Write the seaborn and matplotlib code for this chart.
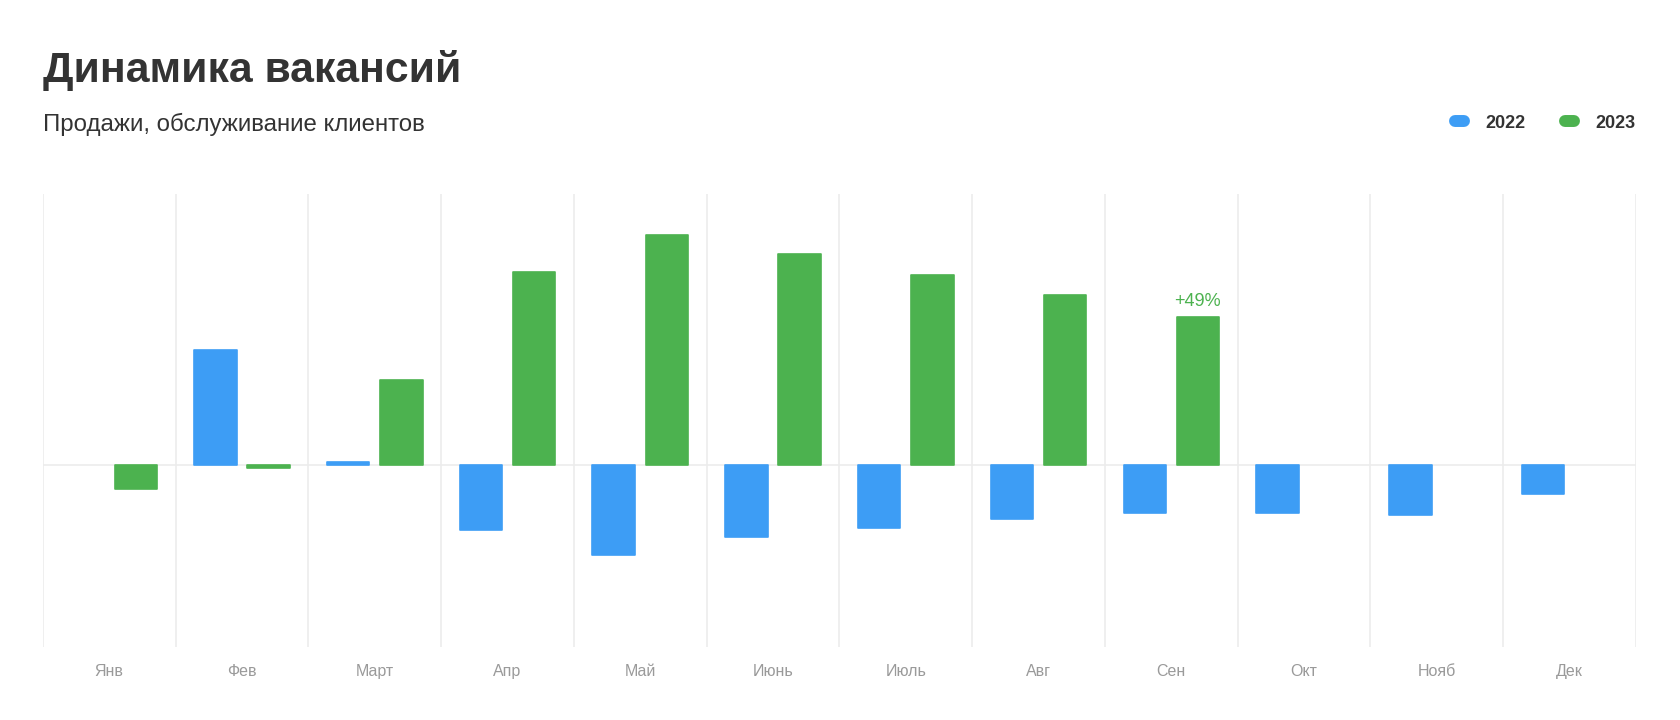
import numpy as np
import pandas as pd
import matplotlib
matplotlib.use("Agg")
import matplotlib.pyplot as plt
import seaborn as sns
from matplotlib.lines import Line2D

# ---------------------------------------------------------------- data
months = ["Янв", "Фев", "Март", "Апр", "Май", "Июнь", "Июль", "Авг", "Сен", "Окт", "Нояб", "Дек"]
years = ["2022", "2023"]
v2022 = [np.nan, 38, 1, -21.5, -29.6, -23.6, -20.8, -17.6, -15.9, -15.9, -16.6, -9.5]
v2023 = [-7.8, -1, 28, 63.8, 75.8, 69.8, 62.7, 56, 49, np.nan, np.nan, np.nan]
note_month, note_text = "Сен", "+49%"

BLUE, GREEN = "#3d9df5", "#4cb24f"
GRID = "#ececec"

df = pd.DataFrame({
    "month": months * 2,
    "year": [years[0]] * len(months) + [years[1]] * len(months),
    "value": v2022 + v2023,
}).dropna()

# ---------------------------------------------------------------- plot
sns.set_theme(style="white")
plt.rcParams["font.family"] = ["Liberation Sans", "DejaVu Sans"]

fig = plt.figure(figsize=(16.8, 7.2), dpi=100)
ax = fig.add_axes([0.0255, 0.1014, 0.9483, 0.6292])

sns.barplot(data=df, x="month", y="value", hue="year", order=months, hue_order=years,
            palette={years[0]: BLUE, years[1]: GREEN}, saturation=1, width=0.8, gap=0.2,
            errorbar=None, legend=False, ax=ax, zorder=3)
for p in ax.patches:
    p.set_edgecolor(p.get_facecolor())
    p.set_linewidth(1.2)
    p.set_joinstyle("round")

ax.set_xlim(-0.5, len(months) - 0.5)
ax.set_ylim(-60, 89.5)
ax.set_xticks(np.arange(-0.5, len(months), 1), minor=True)
ax.grid(which="minor", axis="x", color=GRID, lw=1.2)
ax.grid(which="major", axis="x", visible=False)
ax.axhline(0, color=GRID, lw=1.2, zorder=1)
ax.set_yticks([])
ax.set_xlabel(""); ax.set_ylabel("")
ax.tick_params(axis="x", which="both", length=0, pad=12, labelsize=11.5, labelcolor="#9a9a9a")
for s in ax.spines.values():
    s.set_visible(False)

# annotation over the september 2023 bar
i = months.index(note_month)
ax.annotate(note_text, (i + 0.2, v2023[i]), xytext=(0, 5), textcoords="offset points",
            ha="center", va="bottom", color=GREEN, fontsize=13)

# titles
fig.text(0.0255, 0.902, "Динамика вакансий", fontsize=30.8, fontweight="bold",
         color="#333333", va="center", ha="left")
fig.text(0.0255, 0.827, "Продажи, обслуживание клиентов", fontsize=17.3,
         color="#333333", va="center", ha="left")

# legend with pill-shaped handles
handles = [Line2D([0, 1], [0, 0], color=c, lw=8.6, solid_capstyle="round") for c in (BLUE, GREEN)]
fig.legend(handles, years, loc="center right", bbox_to_anchor=(0.9738, 0.829), ncol=2,
           frameon=False, handlelength=0.5, handletextpad=1.2, columnspacing=2.2,
           borderpad=0, borderaxespad=0,
           prop={"size": 13, "weight": "bold"}, labelcolor="#333333")

fig.savefig("out.png", dpi=100, facecolor="white")
